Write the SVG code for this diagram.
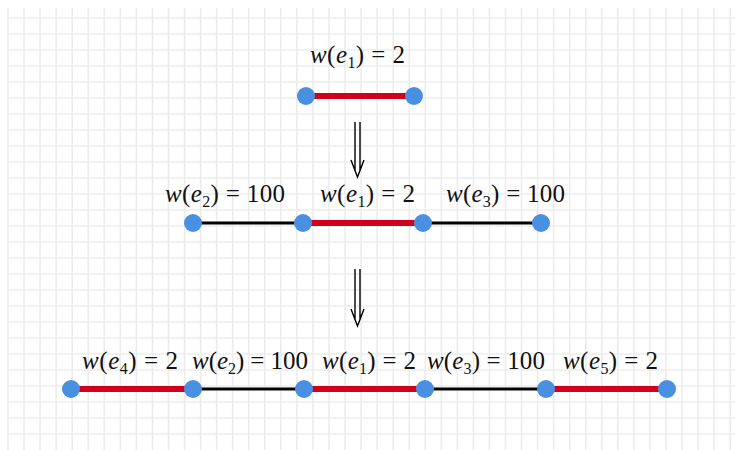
<svg xmlns="http://www.w3.org/2000/svg" width="735" height="450" viewBox="0 0 735 450">
<style>
.grid line{stroke:#ececec;stroke-width:1.6}
.red{stroke:#d0021b;stroke-width:6}
.blk{stroke:#000;stroke-width:3}
.node{fill:#4a90e2}
.lbl{font-family:"Liberation Serif",serif;font-size:25px;fill:#111}
.it{font-style:italic}
.sub{font-size:16px}
.arr{fill:none;stroke:#000;stroke-width:1.4}
</style>
<rect width="735" height="450" fill="#fff"/>
<g class="grid" id="grid">
<line x1="8" y1="8" x2="8" y2="450"/><line x1="24.05" y1="8" x2="24.05" y2="450"/><line x1="40.1" y1="8" x2="40.1" y2="450"/><line x1="56.15" y1="8" x2="56.15" y2="450"/><line x1="72.2" y1="8" x2="72.2" y2="450"/><line x1="88.25" y1="8" x2="88.25" y2="450"/><line x1="104.3" y1="8" x2="104.3" y2="450"/><line x1="120.35" y1="8" x2="120.35" y2="450"/><line x1="136.4" y1="8" x2="136.4" y2="450"/><line x1="152.45" y1="8" x2="152.45" y2="450"/><line x1="168.5" y1="8" x2="168.5" y2="450"/><line x1="184.55" y1="8" x2="184.55" y2="450"/><line x1="200.6" y1="8" x2="200.6" y2="450"/><line x1="216.65" y1="8" x2="216.65" y2="450"/><line x1="232.7" y1="8" x2="232.7" y2="450"/><line x1="248.75" y1="8" x2="248.75" y2="450"/><line x1="264.8" y1="8" x2="264.8" y2="450"/><line x1="280.85" y1="8" x2="280.85" y2="450"/><line x1="296.9" y1="8" x2="296.9" y2="450"/><line x1="312.95" y1="8" x2="312.95" y2="450"/><line x1="329" y1="8" x2="329" y2="450"/><line x1="345.05" y1="8" x2="345.05" y2="450"/><line x1="361.1" y1="8" x2="361.1" y2="450"/><line x1="377.15" y1="8" x2="377.15" y2="450"/><line x1="393.2" y1="8" x2="393.2" y2="450"/><line x1="409.25" y1="8" x2="409.25" y2="450"/><line x1="425.3" y1="8" x2="425.3" y2="450"/><line x1="441.35" y1="8" x2="441.35" y2="450"/><line x1="457.4" y1="8" x2="457.4" y2="450"/><line x1="473.45" y1="8" x2="473.45" y2="450"/><line x1="489.5" y1="8" x2="489.5" y2="450"/><line x1="505.55" y1="8" x2="505.55" y2="450"/><line x1="521.6" y1="8" x2="521.6" y2="450"/><line x1="537.65" y1="8" x2="537.65" y2="450"/><line x1="553.7" y1="8" x2="553.7" y2="450"/><line x1="569.75" y1="8" x2="569.75" y2="450"/><line x1="585.8" y1="8" x2="585.8" y2="450"/><line x1="601.85" y1="8" x2="601.85" y2="450"/><line x1="617.9" y1="8" x2="617.9" y2="450"/><line x1="633.95" y1="8" x2="633.95" y2="450"/><line x1="650" y1="8" x2="650" y2="450"/><line x1="666.05" y1="8" x2="666.05" y2="450"/><line x1="682.1" y1="8" x2="682.1" y2="450"/><line x1="698.15" y1="8" x2="698.15" y2="450"/><line x1="714.2" y1="8" x2="714.2" y2="450"/><line x1="730.25" y1="8" x2="730.25" y2="450"/>
<line x1="8" y1="18" x2="735" y2="18"/><line x1="8" y1="34" x2="735" y2="34"/><line x1="8" y1="50" x2="735" y2="50"/><line x1="8" y1="66" x2="735" y2="66"/><line x1="8" y1="82" x2="735" y2="82"/><line x1="8" y1="98" x2="735" y2="98"/><line x1="8" y1="114" x2="735" y2="114"/><line x1="8" y1="130" x2="735" y2="130"/><line x1="8" y1="146" x2="735" y2="146"/><line x1="8" y1="162" x2="735" y2="162"/><line x1="8" y1="178" x2="735" y2="178"/><line x1="8" y1="194" x2="735" y2="194"/><line x1="8" y1="210" x2="735" y2="210"/><line x1="8" y1="226" x2="735" y2="226"/><line x1="8" y1="242" x2="735" y2="242"/><line x1="8" y1="258" x2="735" y2="258"/><line x1="8" y1="274" x2="735" y2="274"/><line x1="8" y1="290" x2="735" y2="290"/><line x1="8" y1="306" x2="735" y2="306"/><line x1="8" y1="322" x2="735" y2="322"/><line x1="8" y1="338" x2="735" y2="338"/><line x1="8" y1="354" x2="735" y2="354"/><line x1="8" y1="370" x2="735" y2="370"/><line x1="8" y1="386" x2="735" y2="386"/><line x1="8" y1="402" x2="735" y2="402"/><line x1="8" y1="418" x2="735" y2="418"/><line x1="8" y1="434" x2="735" y2="434"/>
</g>
<g id="connectors">
<line class="red" x1="306" y1="96" x2="414" y2="96"/>
<line class="blk" x1="193" y1="223" x2="303" y2="223"/>
<line class="red" x1="303" y1="223" x2="423" y2="223"/>
<line class="blk" x1="423" y1="223" x2="541" y2="223"/>
<line class="red" x1="71" y1="389" x2="193" y2="389"/>
<line class="blk" x1="193" y1="389" x2="304" y2="389"/>
<line class="red" x1="304" y1="389" x2="425" y2="389"/>
<line class="blk" x1="425" y1="389" x2="546" y2="389"/>
<line class="red" x1="546" y1="389" x2="667" y2="389"/>
<path class="arr" d="M355 122V171M360 122V171M351 160L357.5 177L364 160"/>
<path class="arr" d="M355 269V320M360 269V320M351 309L357.5 326L364 309"/>
</g>
<g id="n1"><circle class="node" cx="306" cy="96" r="9"/></g>
<g id="n2"><circle class="node" cx="414" cy="96" r="9"/></g>
<g id="n3"><circle class="node" cx="193" cy="223" r="9"/></g>
<g id="n4"><circle class="node" cx="303" cy="223" r="9"/></g>
<g id="n5"><circle class="node" cx="423" cy="223" r="9"/></g>
<g id="n6"><circle class="node" cx="541" cy="223" r="9"/></g>
<g id="n7"><circle class="node" cx="71" cy="389" r="9"/></g>
<g id="n8"><circle class="node" cx="193" cy="389" r="9"/></g>
<g id="n9"><circle class="node" cx="304" cy="389" r="9"/></g>
<g id="n10"><circle class="node" cx="425" cy="389" r="9"/></g>
<g id="n11"><circle class="node" cx="546" cy="389" r="9"/></g>
<g id="n12"><circle class="node" cx="667" cy="389" r="9"/></g>
<g id="labels">
<text class="lbl" x="310" y="63" textLength="95" lengthAdjust="spacing"><tspan class="it">w</tspan>(<tspan class="it">e</tspan><tspan class="sub" dy="5">1</tspan><tspan dy="-5">) = 2</tspan></text>
<text class="lbl" x="165" y="202" textLength="120" lengthAdjust="spacing"><tspan class="it">w</tspan>(<tspan class="it">e</tspan><tspan class="sub" dy="5">2</tspan><tspan dy="-5">) = 100</tspan></text>
<text class="lbl" x="320" y="202" textLength="95" lengthAdjust="spacing"><tspan class="it">w</tspan>(<tspan class="it">e</tspan><tspan class="sub" dy="5">1</tspan><tspan dy="-5">) = 2</tspan></text>
<text class="lbl" x="446" y="202" textLength="119" lengthAdjust="spacing"><tspan class="it">w</tspan>(<tspan class="it">e</tspan><tspan class="sub" dy="5">3</tspan><tspan dy="-5">) = 100</tspan></text>
<text class="lbl" x="82" y="369" textLength="96" lengthAdjust="spacing"><tspan class="it">w</tspan>(<tspan class="it">e</tspan><tspan class="sub" dy="5">4</tspan><tspan dy="-5">) = 2</tspan></text>
<text class="lbl" x="192" y="369" textLength="116" lengthAdjust="spacing"><tspan class="it">w</tspan>(<tspan class="it">e</tspan><tspan class="sub" dy="5">2</tspan><tspan dy="-5">) = 100</tspan></text>
<text class="lbl" x="322" y="369" textLength="94" lengthAdjust="spacing"><tspan class="it">w</tspan>(<tspan class="it">e</tspan><tspan class="sub" dy="5">1</tspan><tspan dy="-5">) = 2</tspan></text>
<text class="lbl" x="427" y="369" textLength="118" lengthAdjust="spacing"><tspan class="it">w</tspan>(<tspan class="it">e</tspan><tspan class="sub" dy="5">3</tspan><tspan dy="-5">) = 100</tspan></text>
<text class="lbl" x="563" y="369" textLength="95" lengthAdjust="spacing"><tspan class="it">w</tspan>(<tspan class="it">e</tspan><tspan class="sub" dy="5">5</tspan><tspan dy="-5">) = 2</tspan></text>
</g>
</svg>
